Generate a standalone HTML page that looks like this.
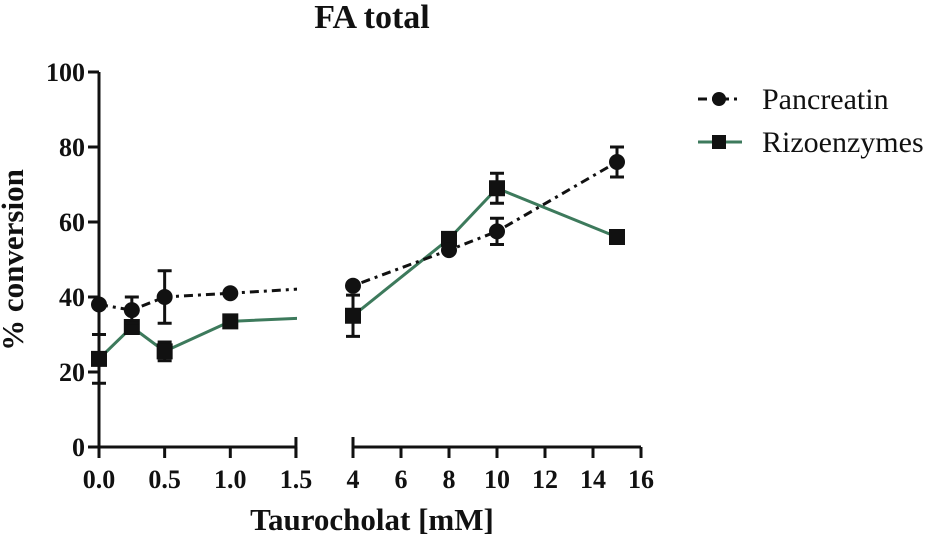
<!DOCTYPE html>
<html><head><meta charset="utf-8"><style>
body{margin:0;background:#fff;width:931px;height:535px;overflow:hidden}
svg{display:block}
text{font-family:"Liberation Serif",serif}
.tk{font-weight:bold;font-size:26px;fill:#111}
</style></head><body>
<svg id="c" width="931" height="535">
<defs>
<clipPath id="clipL"><rect x="90" y="0" width="207" height="535"/></clipPath>
<clipPath id="clipR"><rect x="350" y="0" width="300" height="535"/></clipPath>
</defs>
<text x="372" y="28" text-anchor="middle" style="font-weight:bold;font-size:34px" fill="#111">FA total</text>
<text transform="translate(23,260) rotate(-90)" text-anchor="middle" style="font-weight:bold;font-size:31px" fill="#111">% conversion</text>
<text x="372" y="530" text-anchor="middle" style="font-weight:bold;font-size:31px" fill="#111">Taurocholat [mM]</text>
<g id="axes"></g>
<g id="series"></g>
<g>
<g>
<line x1="698" y1="99" x2="742" y2="99" stroke="#111" stroke-width="3" stroke-dasharray="9,5,3,5"/>
<circle cx="719" cy="99" r="7" fill="#111"/>
<text x="762" y="109" style="font-size:30px" fill="#111">Pancreatin</text>
</g>
<g>
<line x1="698" y1="142" x2="742" y2="142" stroke="#3d7a5c" stroke-width="3"/>
<rect x="712" y="135" width="14" height="14" fill="#111"/>
<text x="762" y="152" style="font-size:30px" fill="#111">Rizoenzymes</text>
</g>
</g>
</svg>
<script>
const xLeft=[0,0.25,0.5,1.0];
const xRight=[4,8,10,15];
const pancLeft=[38,36.5,40,41];
const pancLeftErr=[0,3.5,7,0];
const pancRight=[43,52.5,57.5,76];
const pancRightErr=[0,0,3.5,4];
const rizoLeft=[23.5,32,25.5,33.5];
const rizoLeftErr=[6.5,0,2.5,0];
const rizoRight=[35,55.5,69,56];
const rizoRightErr=[5.5,0,4,0];
const yTicks=[0,20,40,60,80,100];
const xTicksL=["0.0","0.5","1.0","1.5"];
const xTicksR=[4,6,8,10,12,14,16];

const NS="http://www.w3.org/2000/svg";
function y(v){return 447-v*3.75;}
function xL(v){return 99+v*131.3;}
function xR(v){return 353+(v-4)*24;}
function mk(tag,attrs,parent){const e=document.createElementNS(NS,tag);for(const k in attrs)e.setAttribute(k,attrs[k]);parent.appendChild(e);return e;}
const ax=document.getElementById('axes'), se=document.getElementById('series');
let e=mk('line',{x1:99,y1:72,x2:99,y2:450,stroke:'#111','stroke-width':3},ax);


yTicks.forEach(t=>{
  mk('line',{x1:88,y1:y(t),x2:99,y2:y(t),stroke:'#111','stroke-width':3},ax);
  const tx=mk('text',{x:85,y:y(t)+9,'text-anchor':'end','class':'tk'},ax);tx.textContent=t;
  
  
});
e=mk('line',{x1:98,y1:447,x2:297,y2:447,stroke:'#111','stroke-width':3},ax);


xTicksL.forEach(t=>{const px=xL(parseFloat(t));
  mk('line',{x1:px,y1:447,x2:px,y2:458,stroke:'#111','stroke-width':3},ax);
  const tx=mk('text',{x:px,y:488,'text-anchor':'middle','class':'tk'},ax);tx.textContent=t;
  
  
});
mk('line',{x1:xL(1.5),y1:437,x2:xL(1.5),y2:458,stroke:'#111','stroke-width':3},ax);
e=mk('line',{x1:353,y1:447,x2:641,y2:447,stroke:'#111','stroke-width':3},ax);


mk('line',{x1:353,y1:437,x2:353,y2:458,stroke:'#111','stroke-width':3},ax);
xTicksR.forEach(t=>{const px=xR(t);
  mk('line',{x1:px,y1:447,x2:px,y2:458,stroke:'#111','stroke-width':3},ax);
  const tx=mk('text',{x:px,y:488,'text-anchor':'middle','class':'tk'},ax);tx.textContent=t;
  
  
});
function draw(name,vl,el,vr,er,color,dash,marker){
  const g=mk('g',{},se);
  
  
  const pts=xLeft.map((x,i)=>[xL(x),y(vl[i])]).concat(xRight.map((x,i)=>[xR(x),y(vr[i])]));
  const n=xLeft.length;
  const sty={fill:'none',stroke:color,'stroke-width':3};
  if(dash)sty['stroke-dasharray']=dash;
  mk('polyline',Object.assign({points:pts.slice(0,n+1).map(p=>p.join(',')).join(' '),'clip-path':'url(#clipL)'},sty),g);
  mk('polyline',Object.assign({points:pts.slice(n-1).map(p=>p.join(',')).join(' '),'clip-path':'url(#clipR)'},sty),g);
  const errs=el.concat(er), vals=vl.concat(vr);
  pts.forEach((p,i)=>{
    if(errs[i]>0){const a=y(vals[i]+errs[i]),b=y(vals[i]-errs[i]);
      mk('line',{x1:p[0],y1:a,x2:p[0],y2:b,stroke:'#111','stroke-width':3},g);
      mk('line',{x1:p[0]-7,y1:a,x2:p[0]+7,y2:a,stroke:'#111','stroke-width':3},g);
      mk('line',{x1:p[0]-7,y1:b,x2:p[0]+7,y2:b,stroke:'#111','stroke-width':3},g);}
    let m;
    if(marker==='c')m=mk('circle',{cx:p[0],cy:p[1],r:8,fill:'#111'},g);
    else m=mk('rect',{x:p[0]-8,y:p[1]-8,width:16,height:16,fill:'#111'},g);
    
    
  });
}
draw('rizoenzymes',rizoLeft,rizoLeftErr,rizoRight,rizoRightErr,'#3d7a5c',null,'s');
draw('pancreatin',pancLeft,pancLeftErr,pancRight,pancRightErr,'#111','9,5,3,5','c');
</script>
</body></html>
